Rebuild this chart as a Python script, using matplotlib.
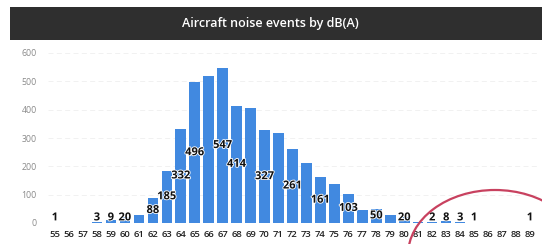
import matplotlib
matplotlib.use("Agg")
import matplotlib.pyplot as plt
from matplotlib.patches import Ellipse, Rectangle
import matplotlib.patheffects as pe

# Data
categories = list(range(55, 90))
values = [1, 0, 0, 3, 9, 20, 30, 88, 185, 332, 496, 520, 547, 414, 405, 327,
          318, 261, 212, 161, 138, 103, 45, 50, 28, 20, 5, 2, 8, 3, 1, 0, 0, 0, 1]
labels = ["1", "", "", "3", "9", "20", "", "88", "185", "332", "496", "", "547",
          "414", "", "327", "", "261", "", "161", "", "103", "", "50", "", "20",
          "", "2", "8", "3", "1", "", "", "", "1"]
yticks = [0, 100, 200, 300, 400, 500, 600]
title = "Aircraft noise events by dB(A)"

plt.rcParams['font.family'] = ['Open Sans', 'DejaVu Sans']

W, H = 542, 244
fig = plt.figure(figsize=(W / 100, H / 100), dpi=100)
fig.patch.set_facecolor("white")

# title bar
fig.patches.append(Rectangle((10 / W, 1 - 40 / H), 1, 33 / H, transform=fig.transFigure,
                             facecolor="#2f2f2f", edgecolor="none", zorder=0))
fig.text(270 / W, 1 - 23.5 / H, title, color="white", fontsize=9, fontweight="semibold",
         ha="center", va="center")

ax = fig.add_axes([48 / W, 21 / H, (537 - 48) / W, (223 - 53) / H])
ax.bar(categories, values, width=0.75, color="#4189e0", zorder=2)
ax.set_xlim(54.5, 89.5)
ax.set_ylim(0, 600)
ax.set_yticks(yticks)
ax.set_yticklabels([str(t) for t in yticks], color="#8a8a8a", fontsize=6.3)
ax.set_xticks(categories)
ax.set_xticklabels([str(c) for c in categories], color="#222222", fontsize=6.8,
                   fontweight="semibold")
ax.tick_params(axis="both", length=0)
ax.tick_params(axis="x", pad=5)
ax.tick_params(axis="y", pad=8)
for s in ax.spines.values():
    s.set_visible(False)
ax.grid(axis="y", color="#efefef", linewidth=0.6, linestyle=(0, (6, 4)), zorder=0)
ax.set_axisbelow(True)

for c, v, lab in zip(categories, values, labels):
    if lab:
        ax.text(c, max(v / 2, 18), lab, ha="center", va="center", fontsize=8,
                fontweight="bold", color="#111111", zorder=3,
                path_effects=[pe.withStroke(linewidth=1.2, foreground="white")])

# red hand-drawn circle annotation
fig.patches.append(Ellipse((495 / W, (H - 255) / H), 174 / W, 130 / H,
                           transform=fig.transFigure, fill=False,
                           edgecolor="#c8415f", linewidth=1.6, zorder=5))

fig.savefig("out.png", dpi=100)
